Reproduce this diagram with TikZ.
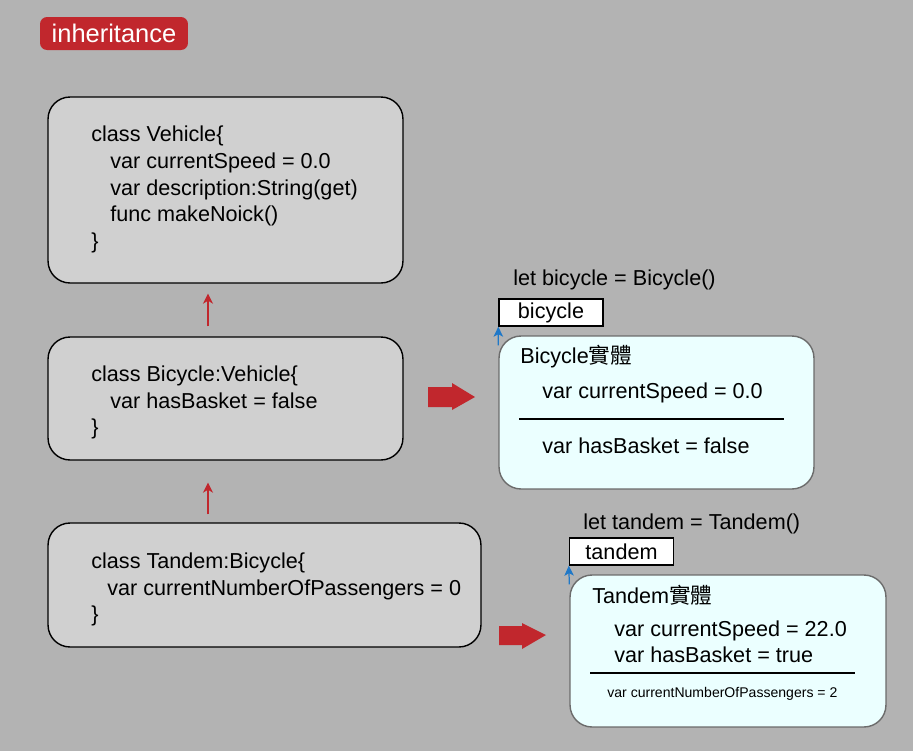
\documentclass[tikz,border=0pt]{standalone}
\usepackage{fontspec}
\setmainfont{Liberation Sans}
\newfontfamily\cjk{Noto Sans CJK TC}
\usetikzlibrary{arrows.meta}

\definecolor{bgGray}{HTML}{B3B3B3}
\definecolor{boxGray}{HTML}{D0D0D0}
\definecolor{objCyan}{HTML}{EBFFFF}
\definecolor{inhRed}{HTML}{C1272D}
\definecolor{refBlue}{HTML}{1F78C8}

\tikzset{
    classbox/.style = {draw=black, fill=boxGray, rounded corners=0.44cm, line width=0.8pt, inner sep=0},
    objbox/.style   = {draw=gray!85!black, fill=objCyan, rounded corners=0.44cm, line width=0.8pt, inner sep=0},
    refbox/.style   = {draw=black, fill=white, line width=0.8pt, inner sep=0,
                       minimum width=2.08cm, minimum height=0.54cm, font=\fontsize{12.3}{14}\selectfont},
    badge/.style    = {fill=inhRed, text=white, rounded corners=0.14cm, inner sep=0,
                       minimum width=2.96cm, minimum height=0.66cm, font=\fontsize{14.5}{16}\selectfont},
    code/.style     = {anchor=base west, inner sep=0, font=\fontsize{12.3}{14}\selectfont},
    smallcode/.style= {code, font=\fontsize{8}{10}\selectfont},
    superarrow/.style = {inhRed, line width=0.6pt, -{Stealth[length=2mm,width=2mm,inset=0.6mm]}},
    refarrow/.style   = {refBlue, line width=0.7pt, -{Stealth[length=2mm,width=1.9mm,inset=0.5mm]}},
}

\begin{document}
\begin{tikzpicture}[x=0.02cm, y=-0.02cm]
        % background, pixel grid of 913 x 751
        \useasboundingbox (0,0) rectangle (913,751);
        \fill[bgGray] (0,0) rectangle (913,751);

        % title
        \node[badge] (inh) at (114,33.5) {inheritance};

        % class boxes
        \node[classbox, minimum width=7.1cm, minimum height=3.72cm] (veh) at (225.5,190) {};
        \node[classbox, minimum width=7.1cm, minimum height=2.46cm] (bike) at (225.5,398.5) {};
        \node[classbox, minimum width=8.66cm, minimum height=2.48cm] (tand) at (264.5,585) {};

        % class Vehicle
        \node[code] (v1) at (91,141.5) {class Vehicle\{};
        \node[code] (v2) at (110,168.3) {var currentSpeed = 0.0};
        \node[code] (v3) at (110,195) {var description:String(get)};
        \node[code] (v4) at (110,221.8) {func makeNoick()};
        \node[code] (v5) at (91,248.5) {\}};

        % class Bicycle
        \node[code] (b1) at (91,381) {class Bicycle:Vehicle\{};
        \node[code] (b2) at (110,408) {var hasBasket = false};
        \node[code] (b3) at (91,434.5) {\}};

        % class Tandem
        \node[code] (t1) at (91,568.5) {class Tandem:Bicycle\{};
        \node[code] (t2) at (107,595.5) {var currentNumberOfPassengers = 0};
        \node[code] (t3) at (91,621.5) {\}};

        % superclass arrows
        \coordinate (up) at (208,0);
        \draw[superarrow] ([yshift=0.2cm]bike.north -| up) -- ([yshift=-0.2cm]veh.south -| up);
        \draw[superarrow] ([yshift=0.16cm]tand.north -| up) -- ([yshift=-0.44cm]bike.south -| up);

        % instance arrows
        \fill[inhRed] (428,387) -- (452,387) -- (452,383) -- (475,397) -- (452,410) -- (452,407) -- (428,407) -- cycle;
        \fill[inhRed] (499,626) -- (522,626) -- (522,623) -- (546,635) -- (522,649) -- (522,645) -- (499,645) -- cycle;

        % bicycle instance
        \node[code] (letb) at (513,285) {let bicycle = Bicycle()};
        \node[refbox] (bicRef) at (551,312.5) {bicycle};
        \node[objbox, minimum width=6.3cm, minimum height=3.06cm] (bicObj) at (656.5,412.5) {};
        \draw[refarrow] ([yshift=-0.2cm]bicObj.north west) -- (bicRef.south west);
        \node[code] (bo1) at (520,363) {Bicycle{\cjk 實體}};
        \node[code] (bo2) at (542,398) {var currentSpeed = 0.0};
        \draw[line width=0.7pt] (519,419) -- (784,419);
        \node[code] (bo3) at (542,453) {var hasBasket = false};

        % tandem instance
        \node[code] (lett) at (583,529) {let tandem = Tandem()};
        \node[refbox] (tanRef) at (621.5,551.5) {tandem};
        \node[objbox, minimum width=6.32cm, minimum height=3.04cm] (tanObj) at (728,651) {};
        \draw[refarrow] ([yshift=-0.2cm]tanObj.north west) -- (tanRef.south west);
        \node[code] (to1) at (592,603) {Tandem{\cjk 實體}};
        \node[code] (to2) at (614,636) {var currentSpeed = 22.0};
        \node[code] (to3) at (614,662) {var hasBasket = true};
        \draw[line width=0.7pt] (590,673) -- (855,673);
        \node[smallcode] (to4) at (607,697) {var currentNumberOfPassengers = 2};
\end{tikzpicture}
\end{document}
